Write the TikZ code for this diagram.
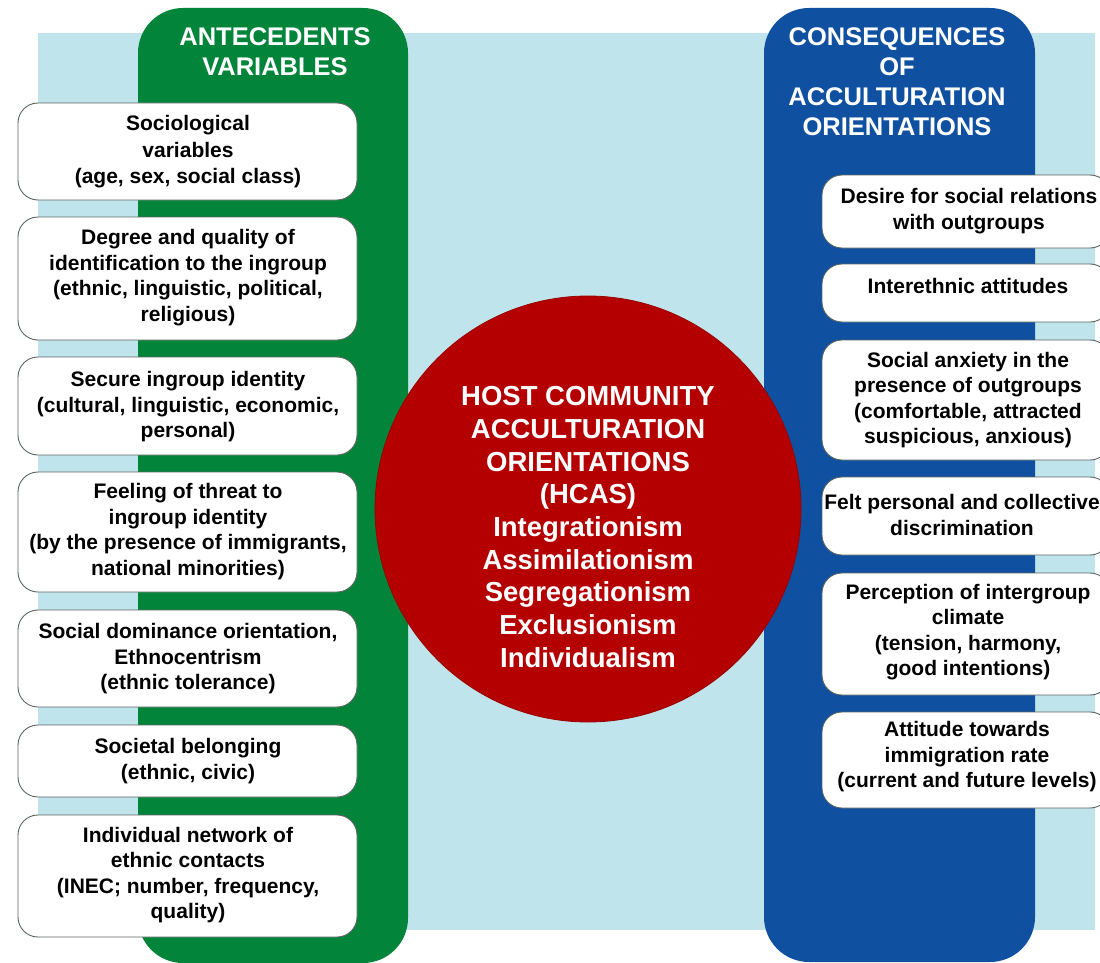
\documentclass[tikz,border=0pt]{standalone}
\usepackage{fontspec}
\setmainfont{Liberation Sans}
\definecolor{bgblue}{RGB}{192,228,236}
\definecolor{colgreen}{RGB}{2,133,58}
\definecolor{colblue}{RGB}{16,80,160}
\definecolor{circred}{RGB}{180,0,0}
\definecolor{boxline}{RGB}{90,100,95}
\begin{document}
\begin{tikzpicture}[x=1pt,y=-1pt,
  box/.style={draw=boxline,line width=0.9pt,fill=white,rounded corners=20pt},
  boxtext/.style={align=center,font=\fontsize{21}{25.5}\selectfont\bfseries,text=black,inner sep=0pt},
  headtext/.style={align=center,font=\fontsize{25.5}{30}\selectfont\bfseries,text=white,inner sep=0pt},
  circtext/.style={align=center,font=\fontsize{27.5}{32.7}\selectfont\bfseries,text=white,inner sep=0pt}]
\useasboundingbox (0,0) rectangle (1100,963);
\clip (0,0) rectangle (1100,963);
% background
\fill[bgblue] (38,33) rectangle (1095,930);
% columns
\fill[colgreen,rounded corners=45pt] (138,8) rectangle (408,963);
\fill[colblue,rounded corners=45pt] (764,8) rectangle (1035,962);
% headers
\node[headtext] (hl) at (275,52) {ANTECEDENTS\\VARIABLES};
\node[headtext] (hr) at (897,82) {CONSEQUENCES\\OF\\ACCULTURATION\\ORIENTATIONS};
% circle
\fill[circred,draw=circred!85!black,line width=0.8pt] (588,509) circle (213);
\node[circtext] (c) at (588,527) {HOST COMMUNITY\\ACCULTURATION\\ORIENTATIONS\\(HCAS)\\Integrationism\\Assimilationism\\Segregationism\\Exclusionism\\Individualism};
% left boxes
\draw[box] (18,103) rectangle (357,200);
\node[boxtext,font=\fontsize{21}{26.5}\selectfont\bfseries] (l1) at (188,152) {Sociological\\variables\\(age, sex, social class)};
\draw[box] (18,217) rectangle (357,340);
\node[boxtext] (l2) at (188,277.5) {Degree and quality of\\identification to the ingroup\\(ethnic, linguistic, political,\\religious)};
\draw[box] (18,357) rectangle (357,455);
\node[boxtext] (l3) at (188,407) {Secure ingroup identity\\(cultural, linguistic, economic,\\personal)};
\draw[box] (18,472) rectangle (357,592);
\node[boxtext] (l4) at (188,531.5) {Feeling of threat to\\ingroup identity\\(by the presence of immigrants,\\national minorities)};
\draw[box] (18,610) rectangle (357,707);
\node[boxtext] (l5) at (188,659) {Social dominance orientation,\\Ethnocentrism\\(ethnic tolerance)};
\draw[box] (18,725) rectangle (357,797);
\node[boxtext] (l6) at (188,761) {Societal belonging\\(ethnic, civic)};
\draw[box] (18,815) rectangle (357,937);
\node[boxtext] (l7) at (188,875) {Individual network of\\ethnic contacts\\(INEC; number, frequency,\\quality)};
% right boxes
\draw[box] (822,175) rectangle (1110,248);
\node[boxtext] (r1) at (969,211) {Desire for social relations\\with outgroups};
\draw[box] (822,264) rectangle (1110,322);
\node[boxtext] (r2) at (968,286) {Interethnic attitudes};
\draw[box] (822,340) rectangle (1110,460);
\node[boxtext] (r3) at (968,400) {Social anxiety in the\\presence of outgroups\\(comfortable, attracted\\suspicious, anxious)};
\draw[box] (822,477) rectangle (1110,555);
\node[boxtext] (r4) at (962,515) {Felt personal and collective\\discrimination};
\draw[box] (822,573) rectangle (1110,695);
\node[boxtext] (r5) at (968,632) {Perception of intergroup\\climate\\(tension, harmony,\\good intentions)};
\draw[box] (822,712) rectangle (1110,808);
\node[boxtext] (r6) at (967,757) {Attitude towards\\immigration rate\\(current and future levels)};
\end{tikzpicture}
\end{document}
